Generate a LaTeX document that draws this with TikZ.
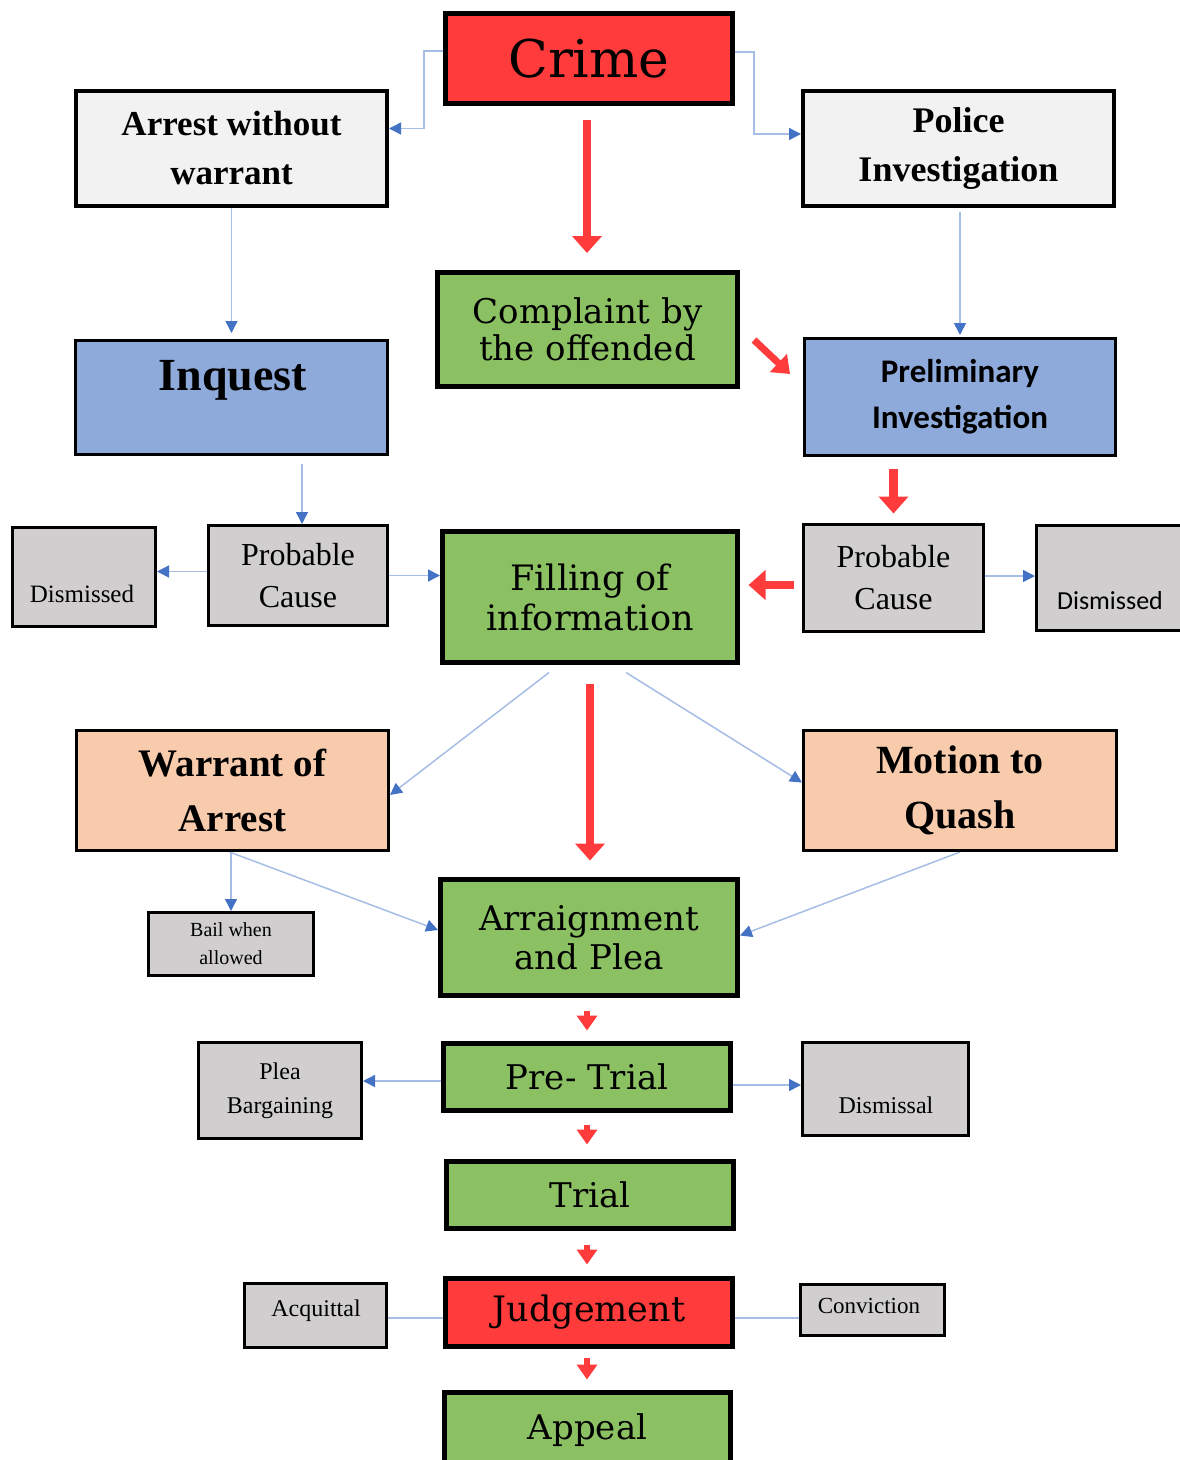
\documentclass[tikz,border=0pt]{standalone}
\usepackage{fontspec}
\setmainfont{Liberation Serif}
\newfontfamily\dvs{DejaVu Serif}
\newfontfamily\crl{Carlito}
\usetikzlibrary{arrows.meta,calc,backgrounds}
\definecolor{cred}{RGB}{255,59,59}
\definecolor{cgreen}{RGB}{139,193,99}
\definecolor{cblue}{RGB}{142,170,219}
\definecolor{cpeach}{RGB}{248,203,173}
\definecolor{cgray}{RGB}{208,206,206}
\definecolor{clight}{RGB}{242,242,242}
\definecolor{lblue}{RGB}{166,189,230}
\definecolor{ablue}{RGB}{68,114,196}
\tikzset{
  box/.style={draw=black, rectangle, inner sep=0pt, align=center},
  bl/.style={draw=lblue, line width=1.5pt, -{Triangle[width=12pt,length=12pt,color=ablue]}},
  bln/.style={draw=lblue, line width=1.5pt},
  bigred/.style={draw=cred, line width=8.5pt, -{Triangle[width=29pt,length=17pt]}},
  midred/.style={draw=cred, line width=7pt, -{Triangle[width=24pt,length=16pt]}},
  smallred/.style={draw=cred, line width=6.5pt, -{Triangle[width=20pt,length=15pt]}},
  gtxt/.style={font=\dvs\fontsize{34}{38}\selectfont},
}
\begin{document}
\begin{tikzpicture}[x=1pt,y=-1pt]
\useasboundingbox (0,0) rectangle (1179,1460);

% top row
\node[box, fill=cred, line width=5pt, minimum width=287pt, minimum height=90pt, font=\dvs\fontsize{52}{60}\selectfont] (crime) at (589,58.5) {Crime};
\node[box, fill=clight, line width=4pt, minimum width=311pt, minimum height=115pt, font=\bfseries\fontsize{35}{49}\selectfont] (arrest) at (231.5,148.5) {Arrest without\\warrant};
\node[box, fill=clight, line width=4pt, minimum width=311pt, minimum height=115pt, font=\bfseries\fontsize{36}{49}\selectfont] (police) at (958.5,148.5) {Police\\Investigation};

% second row
\node[box, fill=cgreen, line width=5pt, minimum width=300pt, minimum height=114pt, font=\dvs\fontsize{34}{37}\selectfont] (complaint) at (587.5,329.5) {Complaint by\\the offended};
\node[box, fill=cblue, line width=3pt, minimum width=312pt, minimum height=114pt] (inquest) at (231.5,397.5) {};
\node[anchor=base, font=\bfseries\fontsize{46}{50}\selectfont] (inquestT) at (233,390) {Inquest};
\node[box, fill=cblue, line width=3pt, minimum width=311pt, minimum height=117pt, font=\crl\bfseries\fontsize{33}{46}\selectfont] (prelim) at (960,397) {Preliminary\\Investigation};

% third row
\node[box, fill=cgray, line width=3pt, minimum width=143pt, minimum height=99pt] (disl) at (84,577) {};
\node[anchor=base, font=\fontsize{25}{28}\selectfont] (dislT) at (82,602) {Dismissed};
\node[box, fill=cgray, line width=3pt, minimum width=179pt, minimum height=100pt, font=\fontsize{32}{42}\selectfont] (pcl) at (298,575.5) {Probable\\Cause};
\node[box, fill=cgreen, line width=5pt, minimum width=295pt, minimum height=131pt, font=\dvs\fontsize{35}{40}\selectfont] (filling) at (590,597) {Filling of\\information};
\node[box, fill=cgray, line width=3pt, minimum width=180pt, minimum height=107pt, font=\fontsize{32}{42}\selectfont] (pcr) at (893.5,578) {Probable\\Cause};
\node[box, fill=cgray, line width=3pt, minimum width=152pt, minimum height=105pt] (disr) at (1112.5,578) {};
\node[anchor=base, font=\crl\fontsize{26}{28}\selectfont] (disrT) at (1110,609) {Dismissed};

% fourth row
\node[box, fill=cpeach, line width=3pt, minimum width=312pt, minimum height=120pt, font=\bfseries\fontsize{39}{55}\selectfont] (warrant) at (232.5,790.5) {Warrant of\\Arrest};
\node[box, fill=cpeach, line width=3pt, minimum width=313pt, minimum height=120pt, font=\bfseries\fontsize{40}{55}\selectfont] (motion) at (960,790.5) {Motion to\\Quash};

% fifth row
\node[box, fill=cgray, line width=3pt, minimum width=165pt, minimum height=63pt, font=\fontsize{20}{28}\selectfont] (bail) at (231,944) {Bail when\\allowed};
\node[box, fill=cgreen, line width=5pt, minimum width=297pt, minimum height=116pt, font=\dvs\fontsize{34}{39}\selectfont] (arraign) at (589,937.5) {Arraignment\\and Plea};

% pre-trial row
\node[box, fill=cgray, line width=3pt, minimum width=163pt, minimum height=96pt, font=\fontsize{24}{34}\selectfont] (plea) at (280,1090.5) {Plea\\Bargaining};
\node[box, fill=cgreen, line width=5pt, minimum width=287pt, minimum height=67pt, gtxt] (pretrial) at (587,1077) {Pre- Trial};
\node[box, fill=cgray, line width=3pt, minimum width=166pt, minimum height=93pt] (dismissal) at (885.5,1089) {};
\node[anchor=base, font=\fontsize{24}{28}\selectfont] (dismissalT) at (886,1113) {Dismissal};

% trial
\node[box, fill=cgreen, line width=5pt, minimum width=287pt, minimum height=67pt, gtxt] (trial) at (590,1195) {Trial};

% judgement row
\node[box, fill=cgray, line width=3pt, minimum width=142pt, minimum height=64pt] (acq) at (315.5,1315.5) {};
\node[anchor=base, font=\fontsize{24}{28}\selectfont] (acqT) at (316,1316) {Acquittal};
\node[box, fill=cred, line width=5pt, minimum width=287pt, minimum height=68pt, font=\dvs\fontsize{35}{38}\selectfont] (judgement) at (589,1312.5) {Judgement};
\node[box, fill=cgray, line width=3pt, minimum width=144pt, minimum height=51pt] (conv) at (872.5,1310) {};
\node[anchor=base, font=\fontsize{23}{28}\selectfont] (convT) at (869,1313) {Conviction};

% appeal
\node[box, fill=cgreen, line width=5pt, minimum width=286pt, minimum height=75pt, gtxt] (appeal) at (587.5,1430) {Appeal};

% free arrow ends
\coordinate (dg1) at (754,340);
\coordinate (dg2) at (790,374);

\begin{scope}[on background layer]
\draw[bl] ([yshift=7.5pt]crime.west) -- ++(-19,0) |- ([yshift=20pt]arrest.east);
\draw[bl] ([yshift=6.5pt]crime.east) -- ++(19,0) |- ([yshift=14.5pt]police.west);
\draw[bl, shorten >=6pt] (arrest.south) -- (inquest.north);
\draw[bl, shorten <=4pt, shorten >=2pt] (police.south -| prelim.north) -- (prelim.north);
\draw[bl, shorten <=8pt] ([xshift=4pt]inquest.south -| pcl.north) -- ([xshift=4pt]pcl.north);
\draw[bl] ([yshift=4pt]pcl.west) -- ([yshift=4pt]pcl.west -| disl.east);
\draw[bl] (pcl.east) -- (pcl.east -| filling.west);
\draw[bl] ([yshift=2pt]pcr.east) -- ([yshift=2pt]pcr.east -| disr.west);
\draw[bl] ([xshift=-41pt,yshift=-7.5pt]filling.south) -- ([yshift=-4.5pt]warrant.east);
\draw[bl] ([xshift=36pt,yshift=-7.5pt]filling.south) -- ([yshift=8pt]motion.west);
\draw[bl] (bail.north |- warrant.south) -- (bail.north);
\draw[bl] ([xshift=-3pt]warrant.south) -- ([yshift=7.5pt]arraign.west);
\draw[bl] (motion.south) -- ([yshift=2pt]arraign.east);
\draw[bl] ([yshift=-4pt]pretrial.west) -- ([yshift=-4pt]pretrial.west -| plea.east);
\draw[bl] ([yshift=-8pt]pretrial.east) -- ([yshift=-8pt]pretrial.east -| dismissal.west);
\draw[bln] ([yshift=-5.5pt]judgement.west) -- ([yshift=-5.5pt]judgement.west -| acq.east);
\draw[bln] ([yshift=-5.5pt]judgement.east) -- ([yshift=-5.5pt]judgement.east -| conv.west);
\end{scope}

% red arrows
\draw[bigred, shorten <=14pt, shorten >=17pt] ([xshift=-2pt]crime.south) -- ([xshift=-2pt]crime.south |- complaint.north);
\draw[midred] (dg1) -- (dg2);
\draw[bigred, shorten <=12pt, shorten >=9.5pt] (pcr.north |- prelim.south) -- (pcr.north);
\draw[bigred, shorten <=8.5pt, shorten >=8.5pt] ([yshift=-7pt]pcr.west) -- ([yshift=-7pt]pcr.west -| filling.east);
\draw[bigred, shorten <=18.5pt, shorten >=16.5pt] (filling.south) -- (filling.south |- arraign.north);
\draw[smallred, shorten <=13pt, shorten >=10.5pt] ([xshift=-2pt]arraign.south) -- ([xshift=-2pt]arraign.south |- pretrial.north);
\draw[smallred, shorten <=12pt, shorten >=14.5pt] (pretrial.south) -- (pretrial.south |- trial.north);
\draw[smallred, shorten <=14pt, shorten >=11.5pt] (pretrial.south |- trial.south) -- (pretrial.south |- judgement.north);
\draw[smallred, shorten <=9pt, shorten >=10.5pt] (pretrial.south |- judgement.south) -- (pretrial.south |- appeal.north);
\end{tikzpicture}
\end{document}
